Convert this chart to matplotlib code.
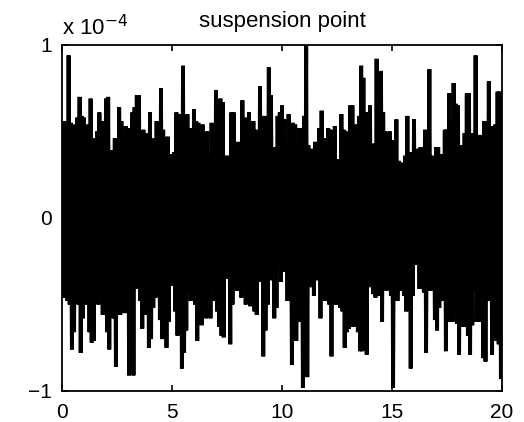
import numpy as np
import matplotlib.pyplot as plt

# peak values, in units of 1e-4, one pair per 0.1 s
upper = [
    0.35, 0.56, 0.50, 0.94, 0.55, 0.38, 0.54, 0.58, 0.70, 0.59,
    0.58, 0.43, 0.54, 0.69, 0.44, 0.46, 0.50, 0.61, 0.56, 0.42,
    0.69, 0.70, 0.39, 0.39, 0.46, 0.45, 0.64, 0.56, 0.46, 0.53,
    0.45, 0.52, 0.61, 0.64, 0.71, 0.71, 0.40, 0.51, 0.49, 0.48,
    0.61, 0.27, 0.46, 0.56, 0.39, 0.75, 0.51, 0.44, 0.47, 0.34,
    # 5 - 10 s
    0.37, 0.38, 0.61, 0.60, 0.59, 0.88, 0.38, 0.60, 0.52, 0.39,
    0.63, 0.56, 0.55, 0.44, 0.54, 0.46, 0.50, 0.37, 0.55, 0.47,
    0.74, 0.51, 0.69, 0.67, 0.34, 0.36, 0.22, 0.61, 0.61, 0.41,
    0.44, 0.42, 0.68, 0.48, 0.58, 0.61, 0.52, 0.56, 0.51, 0.49,
    0.76, 0.47, 0.59, 0.37, 0.87, 0.71, 0.33, 0.41, 0.59, 0.61,
    # 10 - 15 s
    0.65, 0.57, 0.44, 0.60, 0.37, 0.55, 0.54, 0.37, 0.52, 0.34,
    0.59, 1.00, 0.42, 0.34, 0.40, 0.44, 0.43, 0.52, 0.62, 0.46,
    0.37, 0.52, 0.51, 0.42, 0.53, 0.33, 0.34, 0.60, 0.51, 0.50,
    0.25, 0.65, 0.65, 0.43, 0.54, 0.59, 0.88, 0.81, 0.55, 0.61,
    0.65, 0.31, 0.43, 0.92, 0.68, 0.85, 0.61, 0.50, 0.45, 0.50,
    # 15 - 20 s
    0.45, 0.39, 0.57, 0.33, 0.32, 0.26, 0.36, 0.59, 0.34, 0.38,
    0.57, 0.33, 0.40, 0.41, 0.13, 0.51, 0.50, 0.86, 0.36, 0.20,
    0.41, 0.41, 0.34, 0.37, 0.51, 0.51, 0.72, 0.57, 0.78, 0.66,
    0.65, 0.42, 0.42, 0.49, 0.72, 0.72, 0.40, 0.49, 0.94, 0.48,
    0.48, 0.25, 0.56, 0.56, 0.79, 0.38, 0.53, 0.54, 0.73, 0.73,
]

lower = [
    -0.46, -0.39, -0.48, -0.50, -0.76, -0.66, -0.48, -0.50, -0.78, -0.58,
    -0.50, -0.33, -0.66, -0.72, -0.71, -0.44, -0.50, -0.46, -0.56, -0.48,
    -0.66, -0.76, -0.48, -0.58, -0.86, -0.41, -0.56, -0.47, -0.55, -0.27,
    -0.91, -0.55, -0.91, -0.41, -0.40, -0.48, -0.64, -0.56, -0.33, -0.75,
    -0.70, -0.52, -0.46, -0.21, -0.59, -0.70, -0.68, -0.75, -0.60, -0.39,
    # 5 - 10 s
    -0.39, -0.54, -0.68, -0.16, -0.87, -0.78, -0.65, -0.43, -0.48, -0.44,
    -0.50, -0.71, -0.61, -0.62, -0.50, -0.58, -0.55, -0.58, -0.25, -0.48,
    -0.54, -0.63, -0.68, -0.69, -0.35, -0.23, -0.73, -0.50, -0.30, -0.42,
    -0.41, -0.46, -0.38, -0.50, -0.46, -0.51, -0.26, -0.54, -0.56, -0.37,
    -0.35, -0.80, -0.65, -0.50, -0.36, -0.20, -0.58, -0.52, -0.27, -0.37,
    # 10 - 15 s
    -0.31, -0.30, -0.48, -0.27, -0.85, -0.33, -0.71, -0.35, -0.60, -0.98,
    -0.54, -0.92, -0.36, -0.40, -0.45, -0.36, -0.21, -0.58, -0.37, -0.48,
    -0.46, -0.50, -0.80, -0.35, -0.50, -0.50, -0.52, -0.54, -0.75, -0.66,
    -0.64, -0.60, -0.63, -0.58, -0.66, -0.77, -0.77, -0.47, -0.79, -0.40,
    -0.38, -0.44, -0.46, -0.39, -0.45, -0.60, -0.37, -0.42, -0.33, -0.45,
    # 15 - 20 s
    -0.98, -0.35, -0.48, -0.31, -0.42, -0.45, -0.54, -0.48, -0.87, -0.45,
    -0.26, -0.27, -0.41, -0.27, -0.43, -0.78, -0.35, -0.42, -0.28, -0.59,
    -0.65, -0.52, -0.48, -0.31, -0.77, -0.35, -0.60, -0.60, -0.49, -0.61,
    -0.79, -0.62, -0.63, -0.41, -0.68, -0.79, -0.62, -0.42, -0.60, -0.60,
    -0.39, -0.81, -0.83, -0.48, -0.23, -0.79, -0.48, -0.71, -0.73, -0.92,
]

sample_dt = 0.1
xticks = [0, 5, 10, 15, 20]
yticks = [-1, 0, 1]
title = "suspension point"

plt.rcParams['font.family'] = ['Liberation Sans', 'DejaVu Sans']

n = len(upper)
t = np.arange(n) * sample_dt
x = np.empty(2 * n)
y = np.empty(2 * n)
x[0::2] = t
x[1::2] = t + sample_dt / 2
y[0::2] = upper
y[1::2] = lower

fig = plt.figure(figsize=(5.24, 4.22), dpi=100)
ax = fig.add_axes([0.1183, 0.0735, 0.8397, 0.8199])
ax.plot(x, y, color="black", lw=2.8, solid_joinstyle="miter")

ax.set_xlim(0, 20)
ax.set_ylim(-1, 1)
ax.set_xticks(xticks)
ax.set_yticks(yticks)
ax.tick_params(direction="in", top=True, right=True, length=4, width=1.2,
               labelsize=15, pad=7)
ax.tick_params(axis="x", pad=9)
for s in ax.spines.values():
    s.set_linewidth(1.3)

ax.set_title(title, fontsize=16, pad=13)
fig.text(62 / 524, 1 - 28 / 422, "x 10$^{-4}$", fontsize=16,
         ha="left", va="center")

fig.savefig("out.png", dpi=100)
